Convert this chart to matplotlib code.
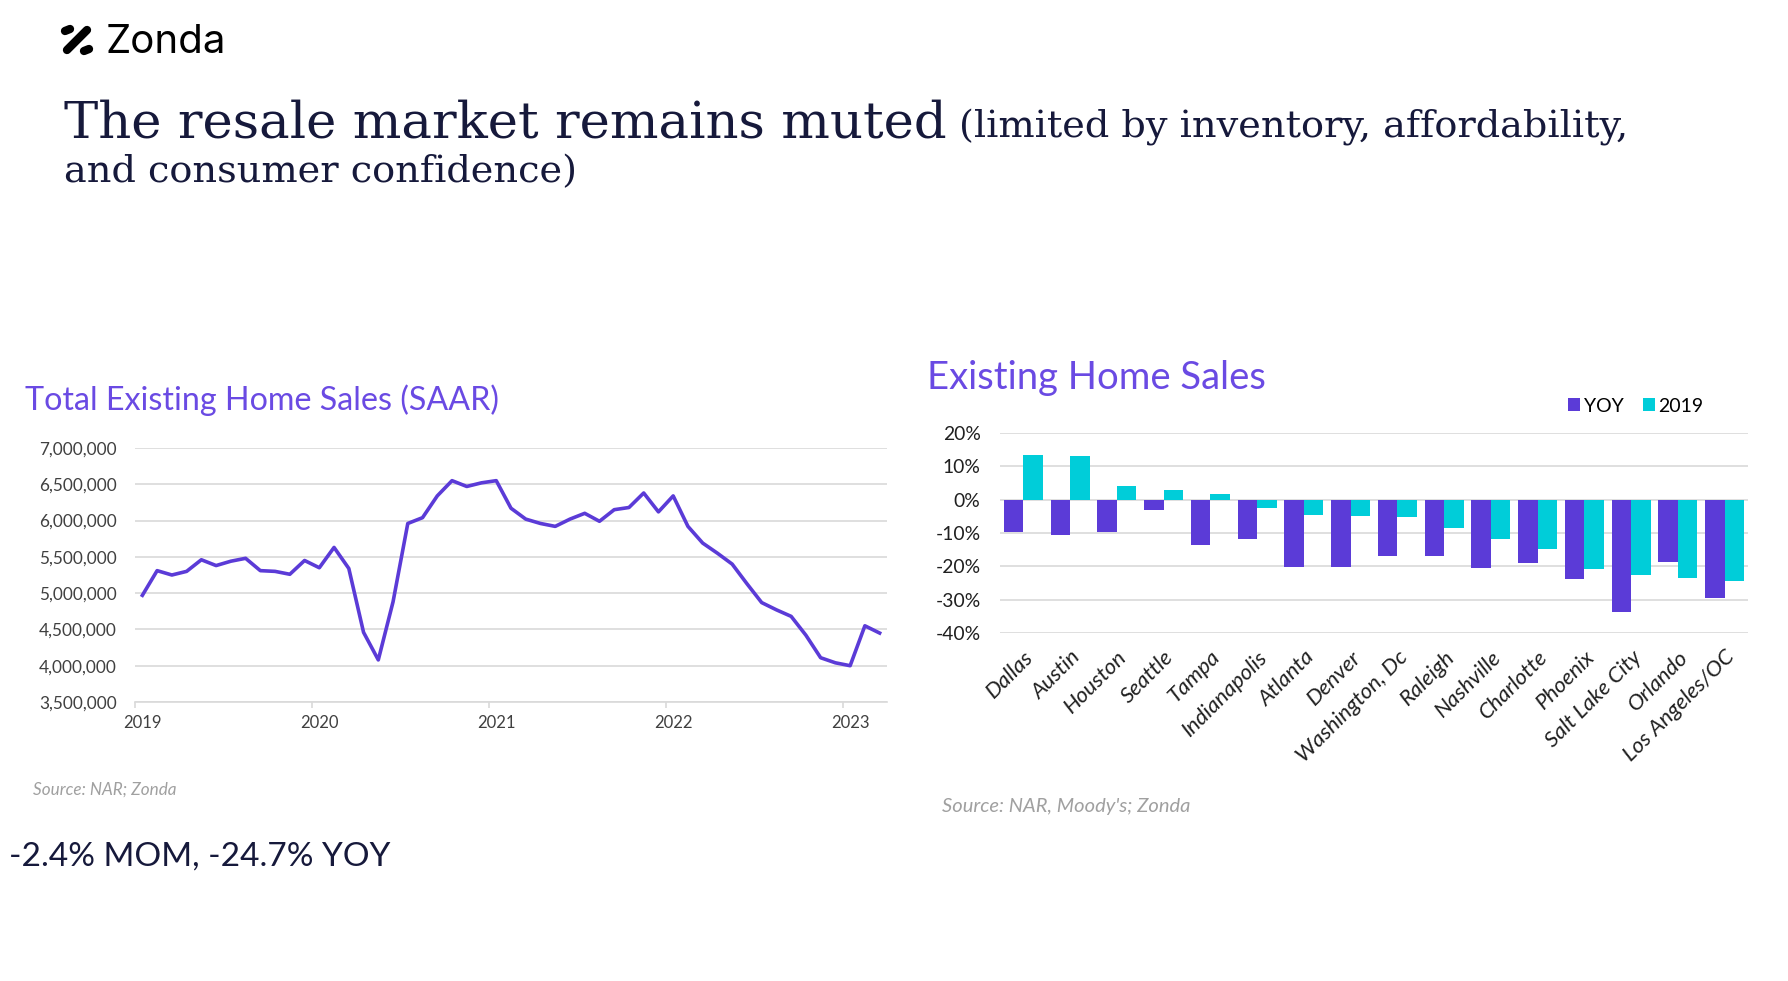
"""
Zonda slide – resale market remains muted.
Left: total existing home sales (SAAR), right: existing home sales by metro.
"""

import numpy as np
import matplotlib.pyplot as plt
from matplotlib.lines import Line2D

# ── data ─────────────────────────────────────────────────────────────────────
# monthly SAAR, Jan 2019 .. Mar 2023 (millions)
sales_saar = [4.97, 5.31, 5.25, 5.30, 5.46, 5.38, 5.44, 5.48, 5.31, 5.30, 5.26, 5.45,
              5.35, 5.63, 5.34, 4.46, 4.08, 4.88, 5.96, 6.04, 6.34, 6.55, 6.47, 6.52,
              6.55, 6.17, 6.02, 5.96, 5.92, 6.02, 6.10, 5.99, 6.15, 6.18, 6.38, 6.12,
              6.34, 5.92, 5.69, 5.55, 5.40, 5.13, 4.87, 4.77, 4.68, 4.42, 4.11, 4.04,
              4.00, 4.55, 4.45]
years = ["2019", "2020", "2021", "2022", "2023"]
line_yticks = [3_500_000, 4_000_000, 4_500_000, 5_000_000,
               5_500_000, 6_000_000, 6_500_000, 7_000_000]

metros = ["Dallas", "Austin", "Houston", "Seattle", "Tampa", "Indianapolis",
          "Atlanta", "Denver", "Washington, Dc", "Raleigh", "Nashville",
          "Charlotte", "Phoenix", "Salt Lake City", "Orlando", "Los Angeles/OC"]
yoy = [-9.7, -10.5, -9.7, -3.2, -13.5, -11.8, -20.2, -20.2, -16.8, -16.8,
       -20.5, -19.0, -23.8, -33.6, -18.8, -29.5]
vs_2019 = [13.3, 13.0, 4.2, 2.8, 1.7, -2.6, -4.7, -5.0, -5.3, -8.5,
           -11.7, -14.7, -20.7, -22.7, -23.5, -24.5]
bar_yticks = [-40, -30, -20, -10, 0, 10, 20]

# ── style ────────────────────────────────────────────────────────────────────
SANS = ["Lato", "DejaVu Sans"]
PURPLE = "#5B3BD7"
TITLE_PURPLE = "#6A4AE3"
CYAN = "#00CDD9"
NAVY = "#16193B"
GRID = "#D9D9D9"
TICK = "#404040"

plt.rcParams["font.family"] = SANS

W, H = 1788, 981
fig = plt.figure(figsize=(W / 100, H / 100), dpi=100)


def fx(px):
    return px / W


def fy(py):
    return 1 - py / H


# ── logo ─────────────────────────────────────────────────────────────────────
logo = dict(transform=None, color="black", solid_capstyle="round")
fig.add_artist(Line2D([67, 87], [H - 50, H - 30], linewidth=6, **logo))
fig.add_artist(Line2D([65, 70], [H - 31, H - 29], linewidth=6, **logo))
fig.add_artist(Line2D([84, 89], [H - 51, H - 49], linewidth=6, **logo))
fig.text(fx(106), fy(53), "Zonda", fontsize=29, color="black",
         family=["Inter", "DejaVu Sans"], va="baseline")

# ── headline ─────────────────────────────────────────────────────────────────
serif = ["DejaVu Serif"]
t1 = fig.text(fx(64), fy(138), "The resale market remains muted", fontsize=37,
              family=serif, color=NAVY, va="baseline")
renderer = fig.canvas.get_renderer()
x_end = t1.get_window_extent(renderer).x1
fig.text((x_end + 12) / W, fy(138), "(limited by inventory, affordability,",
         fontsize=27.5, family=serif, color=NAVY, va="baseline")
fig.text(fx(64), fy(182), "and consumer confidence)", fontsize=27.5,
         family=serif, color=NAVY, va="baseline")

# ── left: total existing home sales ──────────────────────────────────────────
ax1 = fig.add_axes([fx(135), fy(702), fx(887) - fx(135), fy(448) - fy(702)])
months = np.arange(len(sales_saar))
ax1.plot(months, np.array(sales_saar) * 1_000_000, color=PURPLE, linewidth=2.6)
ax1.set_xlim(-0.5, 50.5)
ax1.set_ylim(3_500_000, 7_000_000)
ax1.set_yticks(line_yticks)
ax1.set_yticklabels([f"{v:,}" for v in line_yticks])
ax1.grid(axis="y", color=GRID, linewidth=1.2)
ax1.set_axisbelow(True)
year_pos = np.arange(len(years)) * 12
ax1.set_xticks(year_pos - 0.5)
ax1.set_xticklabels([])
ax1.set_xticks(year_pos, minor=True)
ax1.set_xticklabels(years, minor=True)
ax1.tick_params(axis="x", which="major", length=4, color=GRID, width=1.2)
ax1.tick_params(axis="x", which="minor", length=0, pad=9, labelsize=12, labelcolor=TICK)
ax1.tick_params(axis="y", length=0, pad=13, labelsize=12.4, labelcolor=TICK)
for side in ["top", "right", "left"]:
    ax1.spines[side].set_visible(False)
ax1.spines["bottom"].set_color(GRID)
ax1.spines["bottom"].set_linewidth(1.2)

fig.text(fx(25), fy(410), "Total Existing Home Sales (SAAR)", fontsize=23.2,
         color=TITLE_PURPLE, va="baseline")
fig.text(fx(33), fy(795), "Source: NAR; Zonda", fontsize=12.3, style="italic",
         color="#A0A0A0", va="baseline")
fig.text(fx(9), fy(866), "-2.4% MOM, -24.7% YOY", fontsize=24, color=NAVY,
         va="baseline")

# ── right: existing home sales by metro ──────────────────────────────────────
ax2 = fig.add_axes([fx(1000), fy(633), fx(1748) - fx(1000), fy(433) - fy(633)])
x = np.arange(len(metros))
bw = 0.417
ax2.bar(x - bw / 2, yoy, width=bw, color=PURPLE, label="YOY")
ax2.bar(x + bw / 2, vs_2019, width=bw, color=CYAN, label="2019")
ax2.set_xlim(-0.5, len(metros) - 0.5)
ax2.set_ylim(-40, 20)
ax2.set_yticks(bar_yticks)
ax2.set_yticklabels([f"{v}%" for v in bar_yticks])
ax2.grid(axis="y", color=GRID, linewidth=1.2)
ax2.set_axisbelow(True)
ax2.set_xticks(x)
ax2.set_xticklabels(metros, rotation=45, ha="right", va="top",
                    rotation_mode="anchor", style="italic")
ax2.tick_params(axis="x", length=0, pad=10, labelsize=16, labelcolor="#202020")
ax2.tick_params(axis="y", length=0, pad=14, labelsize=13.9, labelcolor="#202020")
for side in ax2.spines:
    ax2.spines[side].set_visible(False)

ax2.legend(loc="center", bbox_to_anchor=(fx(1636), fy(406)),
           bbox_transform=fig.transFigure, ncol=2, frameon=False,
           handlelength=0.6, handleheight=0.6, handletextpad=0.2,
           columnspacing=1.0, fontsize=14)

fig.text(fx(927), fy(389), "Existing Home Sales", fontsize=27.5,
         color=TITLE_PURPLE, va="baseline")
fig.text(fx(942), fy(812), "Source: NAR, Moody's; Zonda", fontsize=14.5,
         style="italic", color="#A0A0A0", va="baseline")

plt.savefig("out.png", dpi=100)
plt.close()
